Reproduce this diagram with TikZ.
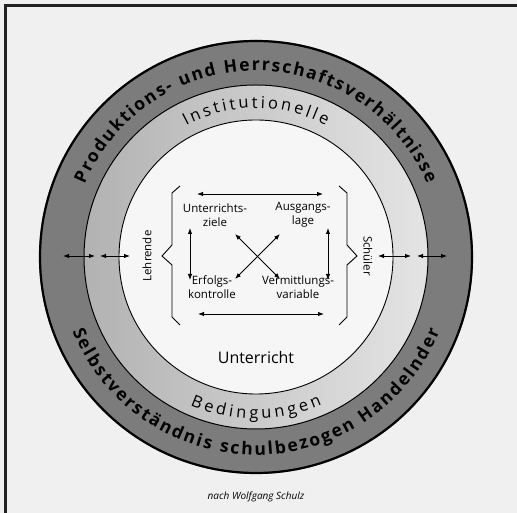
\documentclass[tikz,border=0pt]{standalone}
\usepackage{fontspec}
\setsansfont{Open Sans}
\renewcommand{\familydefault}{\sfdefault}
\usetikzlibrary{arrows.meta,decorations.text}
\definecolor{pagebg}{RGB}{240,240,240}
\definecolor{darkring}{RGB}{124,124,124}
\definecolor{ringL}{RGB}{178,178,178}
\definecolor{ringR}{RGB}{228,228,228}
\definecolor{innerc}{RGB}{246,246,246}
\definecolor{framec}{RGB}{35,35,35}
\begin{document}
\begin{tikzpicture}[x=1pt,y=1pt,
  dbl/.style={{Latex[length=6pt,width=4.5pt]}-{Latex[length=6pt,width=4.5pt]}, line width=0.9pt},
  lbl/.style={font=\fontsize{11.5}{14}\selectfont, align=center, inner sep=0pt},
  sidelbl/.style={font=\fontsize{11.5}{14}\selectfont, inner sep=0pt},
  bracestyle/.style={line width=0.9pt, line join=miter}]
\useasboundingbox (0,0) rectangle (517,513);
\fill[pagebg] (0,0) rectangle (517,513);
\draw[framec, line width=3pt] (5,0) -- (5,507) -- (517,507);
\coordinate (C) at (256,256);
% rings
\fill[darkring] (C) circle (217pt);
\shade[left color=ringL, right color=ringR] (C) circle (172pt);
\fill[innerc] (C) circle (137pt);
\draw[line width=2.2pt] (C) circle (216pt);
\draw[line width=1pt] (C) circle (172pt);
\draw[line width=0.9pt] (C) circle (137pt);
% ring texts
\path[decorate, decoration={text along path, text align={fit to path},
  text={|\bfseries\fontsize{17.5}{17.5}\selectfont|Produktions- und Herrschaftsverhältnisse}}]
  ([shift={(157:186pt)}]C) arc[start angle=157, end angle=23, radius=186pt];
\path[decorate, decoration={text along path, text align={fit to path},
  text={|\bfseries\fontsize{17.5}{17.5}\selectfont|Selbstverständnis schulbezogen Handelnder}}]
  ([shift={(202:198pt)}]C) arc[start angle=202, end angle=338, radius=198pt];
\path[decorate, decoration={text along path, text align={fit to path},
  text={|\fontsize{16.5}{16.5}\selectfont|Institutionelle}}]
  ([shift={(118:149pt)}]C) arc[start angle=118, end angle=62, radius=149pt];
\path[decorate, decoration={text along path, text align={fit to path},
  text={|\fontsize{16.5}{16.5}\selectfont|Bedingungen}}]
  ([shift={(246:162pt)}]C) arc[start angle=246, end angle=294, radius=162pt];
% inner labels
\node[lbl] (uz) at (215,298) {Unterrichts-\\ziele};
\node[lbl] (al) at (303,298) {Ausgangs-\\lage};
\node[lbl] (ek) at (212,226) {Erfolgs-\\kontrolle};
\node[lbl] (vv) at (298,226) {Vermittlungs-\\variable};
\node[font=\fontsize{16}{18}\selectfont, inner sep=0pt] (ur) at (256,155) {Unterricht};
\node[sidelbl, rotate=90] (lehr) at (147,257) {Lehrende};
\node[sidelbl, rotate=-90] (sch) at (368,257) {Schüler};
\node[font=\itshape\fontsize{10}{12}\selectfont, inner sep=0pt] (src) at (256,16) {nach Wolfgang Schulz};
% arrow end points
\coordinate (t1) at (197,319); \coordinate (t2) at (323,319);
\coordinate (b1) at (198,199); \coordinate (b2) at (324,199);
\coordinate (l1) at (190,285); \coordinate (l2) at (190,233);
\coordinate (r1) at (328,285); \coordinate (r2) at (328,233);
\coordinate (d1) at (235,279); \coordinate (d2) at (280,234);
\coordinate (d3) at (280,279); \coordinate (d4) at (235,234);
\draw[dbl] (t1) -- (t2);
\draw[dbl] (b1) -- (b2);
\draw[dbl] (l1) -- (l2);
\draw[dbl] (r1) -- (r2);
\draw[dbl] (d1) -- (d2);
\draw[dbl] (d3) -- (d4);
% braces
\draw[bracestyle] (180,327) -- (172,320) -- (172,268) -- (162,257) -- (172,248) -- (172,196) -- (180,188);
\draw[bracestyle] (339,327) -- (347,320) -- (347,268) -- (357,257) -- (347,248) -- (347,196) -- (339,188);
% side arrows
\coordinate (sa1) at (63,257); \coordinate (sa2) at (95,257);
\coordinate (sa3) at (100,257); \coordinate (sa4) at (130,257);
\coordinate (sb1) at (378,257); \coordinate (sb2) at (411,257);
\coordinate (sb3) at (417,257); \coordinate (sb4) at (447,257);
\draw[dbl] (sa1) -- (sa2);
\draw[dbl] (sa3) -- (sa4);
\draw[dbl] (sb1) -- (sb2);
\draw[dbl] (sb3) -- (sb4);
\end{tikzpicture}
\end{document}
